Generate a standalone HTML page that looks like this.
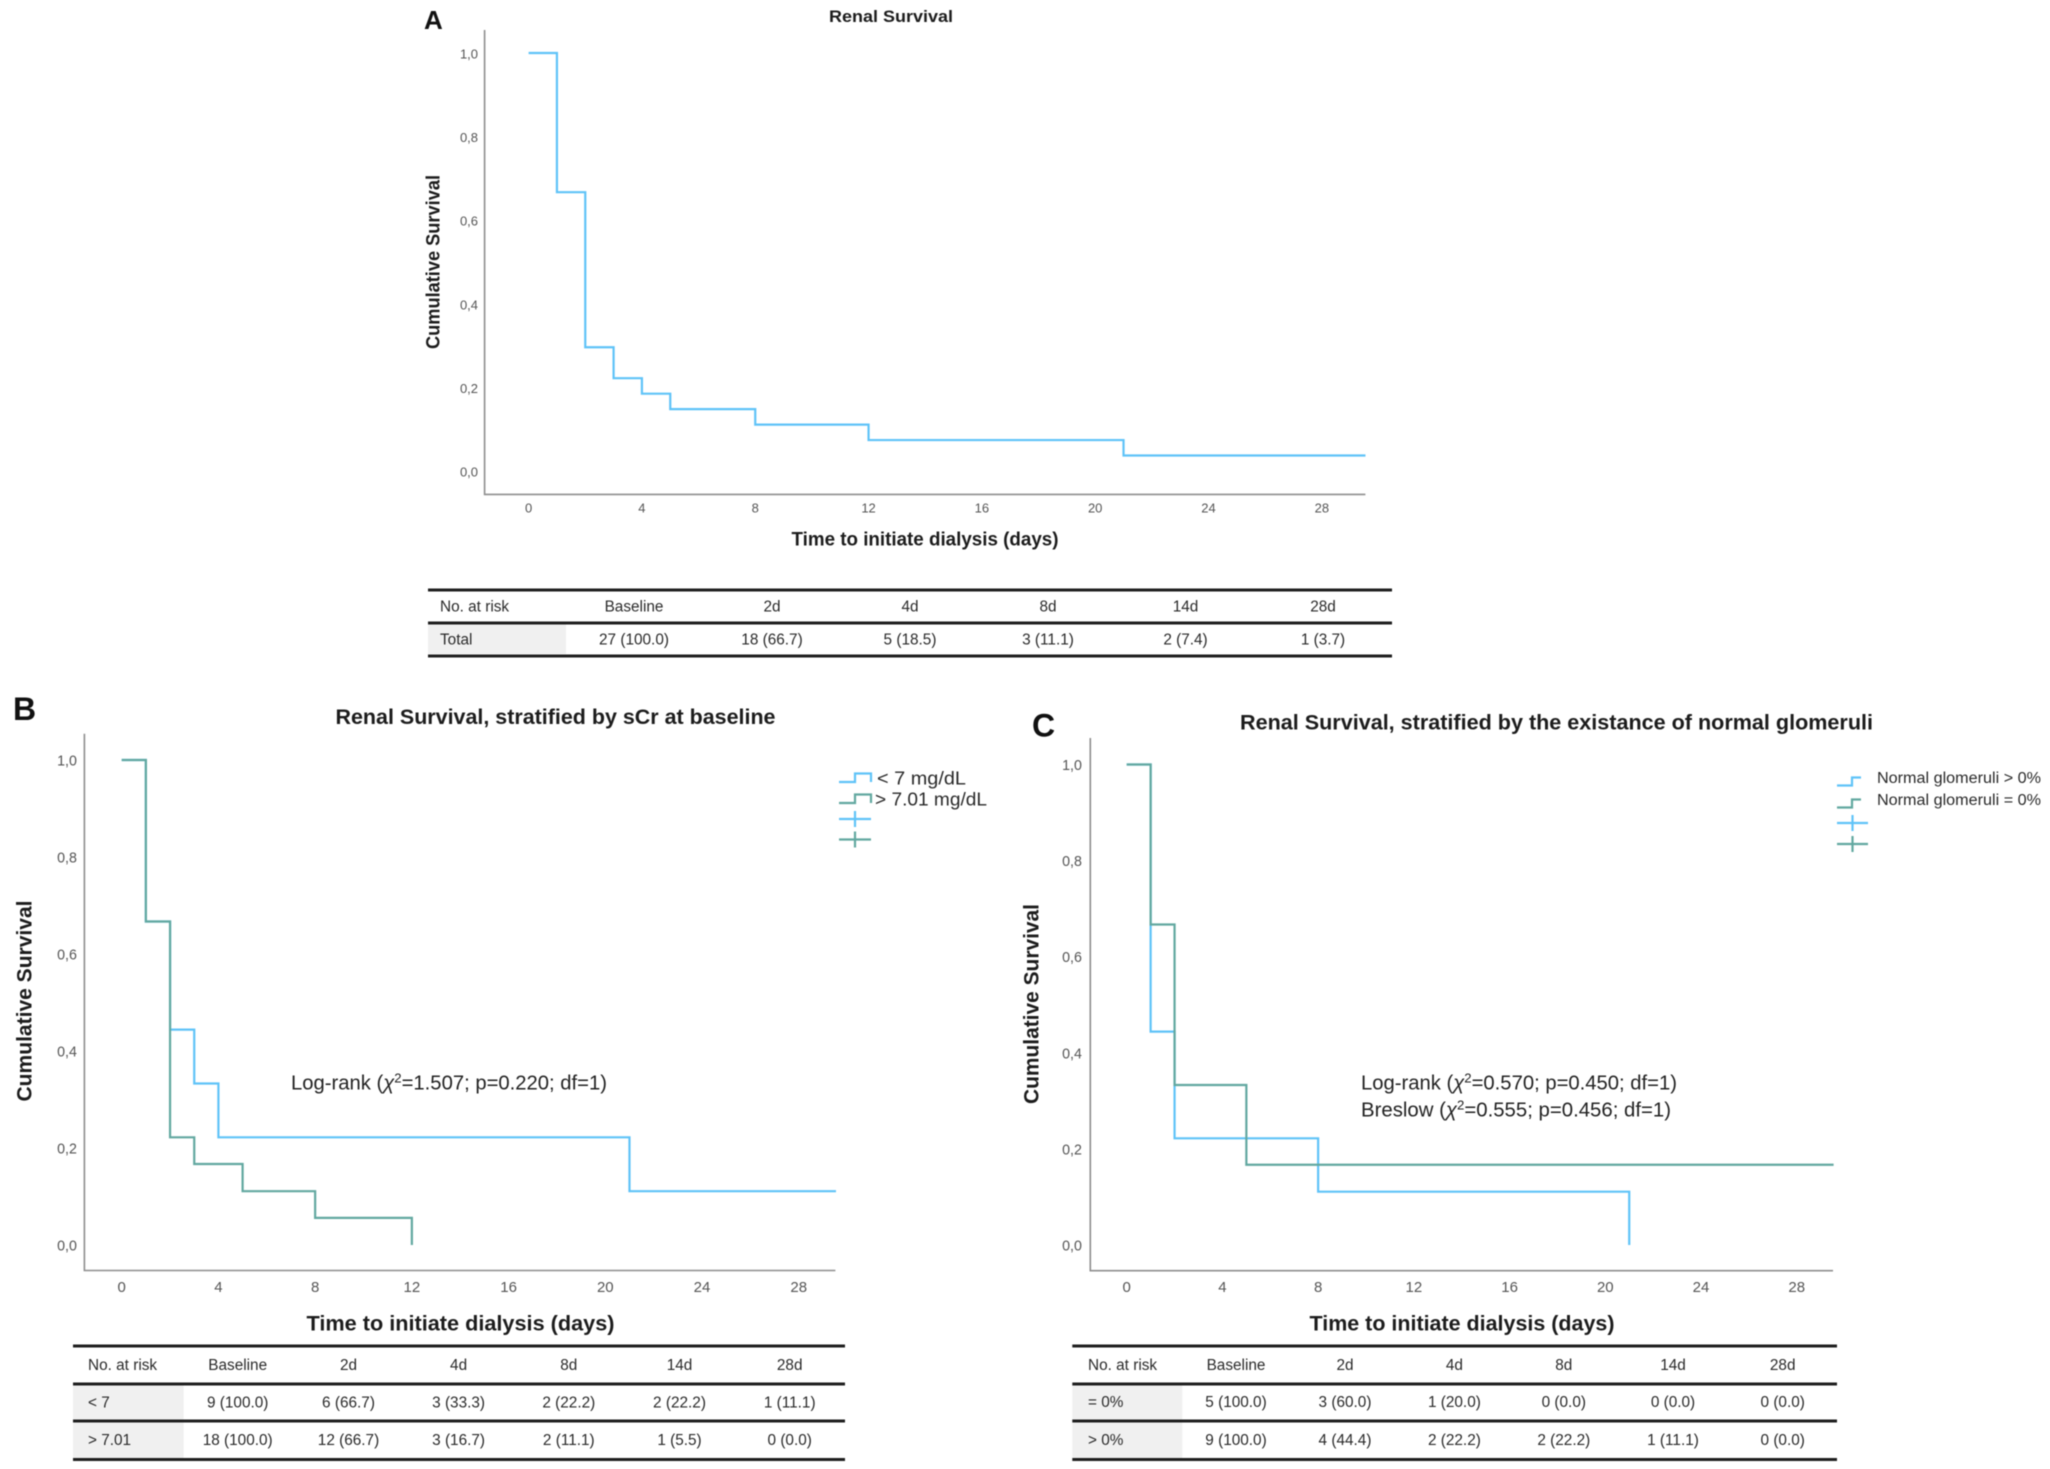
<!DOCTYPE html>
<html lang="en">
<head>
<meta charset="utf-8">
<title>Renal Survival Kaplan-Meier curves</title>
<style>
html,body{margin:0;padding:0;background:#fff;width:2050px;height:1469px;overflow:hidden}
svg{display:block;filter:blur(.55px)}
text{font-family:"Liberation Sans",sans-serif;dominant-baseline:central;fill:#2a2a2a}
.letter{font-weight:700;fill:#111}
.title,.axt{font-weight:700;fill:#1c1c1c;text-anchor:middle}
.cell{font-size:15.5px;text-anchor:middle;fill:#2a2a2a}
.first{font-size:15.5px;fill:#2a2a2a}
.ann{font-size:20px;fill:#222}
.rule{stroke:#1e1e1e;stroke-width:3}
.shade{fill:#f0f0f0}
.axis{stroke:#8e8e8e;stroke-width:1.6;fill:none}
.blue{stroke:#5fc3f8;stroke-width:2.2;fill:none}
.teal{stroke:#62a8a0;stroke-width:2.2;fill:none}
.tick{fill:#555;text-anchor:middle}
</style>
</head>
<body>
<svg id="fig" xmlns="http://www.w3.org/2000/svg" width="2050" height="1469" viewBox="0 0 2050 1469">
<rect width="2050" height="1469" fill="#fff"/>

<!-- PANEL A -->
<g id="panelA">
<text class="letter" x="424" y="20" font-size="26">A</text>
<text class="title" x="891" y="16.7" font-size="17" textLength="124" lengthAdjust="spacingAndGlyphs">Renal Survival</text>
<text class="axt" transform="rotate(-90 434 262)" x="434" y="262" font-size="19" textLength="174" lengthAdjust="spacingAndGlyphs">Cumulative Survival</text>
<text class="axt" x="925" y="540" font-size="19" textLength="267" lengthAdjust="spacingAndGlyphs">Time to initiate dialysis (days)</text>
<g>
<rect class="shade" x="428" y="624" width="138" height="30"/>
<line class="rule" x1="428" x2="1392" y1="590" y2="590"/>
<line class="rule" x1="428" x2="1392" y1="623" y2="623"/>
<line class="rule" x1="428" x2="1392" y1="656" y2="656"/>
<text class="first" x="440" y="607">No. at risk</text>
<text class="cell" x="634" y="607">Baseline</text>
<text class="cell" x="772" y="607">2d</text>
<text class="cell" x="910" y="607">4d</text>
<text class="cell" x="1048" y="607">8d</text>
<text class="cell" x="1185.5" y="607">14d</text>
<text class="cell" x="1323" y="607">28d</text>
<text class="first" x="440" y="640">Total</text>
<text class="cell" x="634" y="640">27 (100.0)</text>
<text class="cell" x="772" y="640">18 (66.7)</text>
<text class="cell" x="910" y="640">5 (18.5)</text>
<text class="cell" x="1048" y="640">3 (11.1)</text>
<text class="cell" x="1185.5" y="640">2 (7.4)</text>
<text class="cell" x="1323" y="640">1 (3.7)</text>
</g>
</g>

<!-- PANEL B -->
<g id="panelB">
<text class="letter" x="13" y="709" font-size="32">B</text>
<text class="title" x="555.5" y="717.7" font-size="21" textLength="440" lengthAdjust="spacingAndGlyphs">Renal Survival, stratified by sCr at baseline</text>
<text class="axt" transform="rotate(-90 25 1001)" x="25" y="1001" font-size="21" textLength="201" lengthAdjust="spacingAndGlyphs">Cumulative Survival</text>
<text class="axt" x="460.5" y="1324" font-size="21" textLength="308" lengthAdjust="spacingAndGlyphs">Time to initiate dialysis (days)</text>
<text class="ann" x="291" y="1083.5" textLength="316" lengthAdjust="spacingAndGlyphs">Log-rank (<tspan font-style="italic">χ</tspan><tspan dy="-6" font-size="13">2</tspan><tspan dy="6">=1.507; p=0.220; df=1)</tspan></text>
<g>
<path class="blue" d="M839 782H855V773.5H871V782"/>
<text x="877" y="778.5" font-size="18" textLength="89" lengthAdjust="spacingAndGlyphs">&lt; 7 mg/dL</text>
<path class="teal" d="M839 803H855V794.5H871V803"/>
<text x="875" y="799.5" font-size="18" textLength="112" lengthAdjust="spacingAndGlyphs">&gt; 7.01 mg/dL</text>
<path class="blue" d="M839 819H871M855 811V827"/>
<path class="teal" d="M839 839.5H871M855 831.5V847.5"/>
</g>
<g>
<rect class="shade" x="73" y="1385" width="110.6" height="35"/>
<rect class="shade" x="73" y="1422" width="110.6" height="36"/>
<line class="rule" x1="73" x2="845" y1="1346" y2="1346"/>
<line class="rule" x1="73" x2="845" y1="1384" y2="1384"/>
<line class="rule" x1="73" x2="845" y1="1421" y2="1421"/>
<line class="rule" x1="73" x2="845" y1="1459.5" y2="1459.5"/>
<text class="first" x="88" y="1365.5">No. at risk</text>
<text class="cell" x="237.7" y="1365.5">Baseline</text>
<text class="cell" x="348.5" y="1365.5">2d</text>
<text class="cell" x="458.6" y="1365.5">4d</text>
<text class="cell" x="568.8" y="1365.5">8d</text>
<text class="cell" x="679.5" y="1365.5">14d</text>
<text class="cell" x="789.7" y="1365.5">28d</text>
<text class="first" x="88" y="1403">&lt; 7</text>
<text class="cell" x="237.7" y="1403">9 (100.0)</text>
<text class="cell" x="348.5" y="1403">6 (66.7)</text>
<text class="cell" x="458.6" y="1403">3 (33.3)</text>
<text class="cell" x="568.8" y="1403">2 (22.2)</text>
<text class="cell" x="679.5" y="1403">2 (22.2)</text>
<text class="cell" x="789.7" y="1403">1 (11.1)</text>
<text class="first" x="88" y="1440.5">&gt; 7.01</text>
<text class="cell" x="237.7" y="1440.5">18 (100.0)</text>
<text class="cell" x="348.5" y="1440.5">12 (66.7)</text>
<text class="cell" x="458.6" y="1440.5">3 (16.7)</text>
<text class="cell" x="568.8" y="1440.5">2 (11.1)</text>
<text class="cell" x="679.5" y="1440.5">1 (5.5)</text>
<text class="cell" x="789.7" y="1440.5">0 (0.0)</text>
</g>
</g>

<!-- PANEL C -->
<g id="panelC">
<text class="letter" x="1032" y="725.5" font-size="32">C</text>
<text class="title" x="1556.5" y="723" font-size="21" textLength="633" lengthAdjust="spacingAndGlyphs">Renal Survival, stratified by the existance of normal glomeruli</text>
<text class="axt" transform="rotate(-90 1032 1004)" x="1032" y="1004" font-size="21" textLength="200" lengthAdjust="spacingAndGlyphs">Cumulative Survival</text>
<text class="axt" x="1462" y="1324" font-size="21" textLength="305" lengthAdjust="spacingAndGlyphs">Time to initiate dialysis (days)</text>
<text class="ann" x="1361" y="1083.5" textLength="316" lengthAdjust="spacingAndGlyphs">Log-rank (<tspan font-style="italic">χ</tspan><tspan dy="-6" font-size="13">2</tspan><tspan dy="6">=0.570; p=0.450; df=1)</tspan></text>
<text class="ann" x="1361" y="1110.5" textLength="310" lengthAdjust="spacingAndGlyphs">Breslow (<tspan font-style="italic">χ</tspan><tspan dy="-6" font-size="13">2</tspan><tspan dy="6">=0.555; p=0.456; df=1)</tspan></text>
<g>
<path class="blue" d="M1837 785.5H1852V777.5H1861"/>
<text x="1877" y="778.5" font-size="15.5" textLength="164" lengthAdjust="spacingAndGlyphs">Normal glomeruli &gt; 0%</text>
<path class="teal" d="M1837 807.5H1852V799.5H1861"/>
<text x="1877" y="800.5" font-size="15.5" textLength="164" lengthAdjust="spacingAndGlyphs">Normal glomeruli = 0%</text>
<path class="blue" d="M1837 823H1868M1852.5 815V831"/>
<path class="teal" d="M1837 844H1868M1852.5 836V852"/>
</g>
<g>
<rect class="shade" x="1072.3" y="1385" width="110" height="35"/>
<rect class="shade" x="1072.3" y="1422" width="110" height="36"/>
<line class="rule" x1="1072.3" x2="1837" y1="1346" y2="1346"/>
<line class="rule" x1="1072.3" x2="1837" y1="1384" y2="1384"/>
<line class="rule" x1="1072.3" x2="1837" y1="1421" y2="1421"/>
<line class="rule" x1="1072.3" x2="1837" y1="1459.5" y2="1459.5"/>
<text class="first" x="1088" y="1365.5">No. at risk</text>
<text class="cell" x="1236" y="1365.5">Baseline</text>
<text class="cell" x="1345" y="1365.5">2d</text>
<text class="cell" x="1454.4" y="1365.5">4d</text>
<text class="cell" x="1563.8" y="1365.5">8d</text>
<text class="cell" x="1673" y="1365.5">14d</text>
<text class="cell" x="1782.7" y="1365.5">28d</text>
<text class="first" x="1088" y="1402.5">= 0%</text>
<text class="cell" x="1236" y="1402.5">5 (100.0)</text>
<text class="cell" x="1345" y="1402.5">3 (60.0)</text>
<text class="cell" x="1454.4" y="1402.5">1 (20.0)</text>
<text class="cell" x="1563.8" y="1402.5">0 (0.0)</text>
<text class="cell" x="1673" y="1402.5">0 (0.0)</text>
<text class="cell" x="1782.7" y="1402.5">0 (0.0)</text>
<text class="first" x="1088" y="1440.5">&gt; 0%</text>
<text class="cell" x="1236" y="1440.5">9 (100.0)</text>
<text class="cell" x="1345" y="1440.5">4 (44.4)</text>
<text class="cell" x="1454.4" y="1440.5">2 (22.2)</text>
<text class="cell" x="1563.8" y="1440.5">2 (22.2)</text>
<text class="cell" x="1673" y="1440.5">1 (11.1)</text>
<text class="cell" x="1782.7" y="1440.5">0 (0.0)</text>
</g>
</g>
</svg>

<script>
// Shared axis ticks
const xTickValues = [0, 4, 8, 12, 16, 20, 24, 28];
const xTickLabels = ['0', '4', '8', '12', '16', '20', '24', '28'];
const yTickValues = [0, 0.2, 0.4, 0.6, 0.8, 1];
const yTickLabels = ['0,0', '0,2', '0,4', '0,6', '0,8', '1,0'];

// Panel A: total
const timesA = [0, 1, 2, 3, 4, 5, 8, 12, 21, 29.54];
const survivalA = [1, 0.667, 0.296, 0.222, 0.185, 0.148, 0.111, 0.074, 0.037, 0.037];

// Panel B: stratified by sCr
const timesBLow = [0, 1, 2, 3, 4, 21, 29.54];
const survivalBLow = [1, 0.667, 0.444, 0.333, 0.222, 0.111, 0.111];
const timesBHigh = [0, 1, 2, 3, 5, 8, 12];
const survivalBHigh = [1, 0.667, 0.222, 0.167, 0.111, 0.056, 0];

// Panel C: stratified by normal glomeruli
const timesCAbove = [0, 1, 2, 8, 21];
const survivalCAbove = [1, 0.444, 0.222, 0.111, 0];
const timesCZero = [0, 1, 2, 5, 29.54];
const survivalCZero = [1, 0.667, 0.333, 0.167, 0.167];

const NS = 'http://www.w3.org/2000/svg';

function drawPanel(groupId, key, frame, series, tickSize, tickFit) {
  const g = document.getElementById(groupId);
  const sx = t => frame.x0 + t * frame.dx;
  const sy = v => frame.y0 - v * frame.ky;

  const axis = document.createElementNS(NS, 'path');
  axis.setAttribute('class', 'axis');
  axis.setAttribute('d', 'M' + frame.left + ' ' + frame.top + 'V' + frame.bottom + 'H' + frame.right);
  
  
  g.appendChild(axis);

  xTickValues.forEach(function (v, i) {
    const t = document.createElementNS(NS, 'text');
    t.setAttribute('class', 'tick');
    t.setAttribute('x', sx(v));
    t.setAttribute('y', frame.xLabelY);
    t.setAttribute('font-size', tickSize);
    t.textContent = xTickLabels[i];
    
    
    g.appendChild(t);
  });

  yTickValues.forEach(function (v, i) {
    const t = document.createElementNS(NS, 'text');
    t.setAttribute('class', 'tick');
    t.setAttribute('x', frame.yLabelX);
    t.setAttribute('y', sy(v) + 1);
    t.setAttribute('font-size', tickSize);
    t.textContent = yTickLabels[i];
    
    
    g.appendChild(t);
    t.setAttribute('textLength', t.getComputedTextLength() * tickFit);
    t.setAttribute('lengthAdjust', 'spacingAndGlyphs');
  });

  series.forEach(function (s) {
    let d = 'M' + sx(s.times[0]) + ' ' + sy(s.values[0]);
    for (let i = 1; i < s.times.length; i++) {
      d += 'H' + sx(s.times[i]) + 'V' + sy(s.values[i]);
    }
    const p = document.createElementNS(NS, 'path');
    p.setAttribute('class', s.cls);
    p.setAttribute('d', d);
    
    
    g.appendChild(p);
  });
}

drawPanel('panelA', 'a',
  {left: 484.6, right: 1365.4, top: 30, bottom: 494.4, x0: 528.6, dx: 28.33, y0: 471, ky: 418, xLabelY: 508, yLabelX: 469},
  [{times: timesA, values: survivalA, cls: 'blue', name: 'total'}], 13, 1);

drawPanel('panelB', 'b',
  {left: 84.4, right: 835.4, top: 733.7, bottom: 1270.5, x0: 121.7, dx: 24.18, y0: 1245, ky: 485, xLabelY: 1287.5, yLabelX: 67},
  [{times: timesBLow, values: survivalBLow, cls: 'blue', name: 'under-7'},
   {times: timesBHigh, values: survivalBHigh, cls: 'teal', name: 'over-7'}], 15, 0.95);

drawPanel('panelC', 'c',
  {left: 1090.3, right: 1833, top: 738, bottom: 1270.7, x0: 1126.7, dx: 23.93, y0: 1245, ky: 480.5, xLabelY: 1287.5, yLabelX: 1072},
  [{times: timesCAbove, values: survivalCAbove, cls: 'blue', name: 'normal-above-0'},
   {times: timesCZero, values: survivalCZero, cls: 'teal', name: 'normal-equal-0'}], 15, 0.95);

// Slight condensing of table text to match the figure's typeface widths
document.querySelectorAll('.cell,.first').forEach(function (el) {
  el.setAttribute('textLength', el.getComputedTextLength() * 0.99);
  el.setAttribute('lengthAdjust', 'spacingAndGlyphs');
});
</script>
</body>
</html>
